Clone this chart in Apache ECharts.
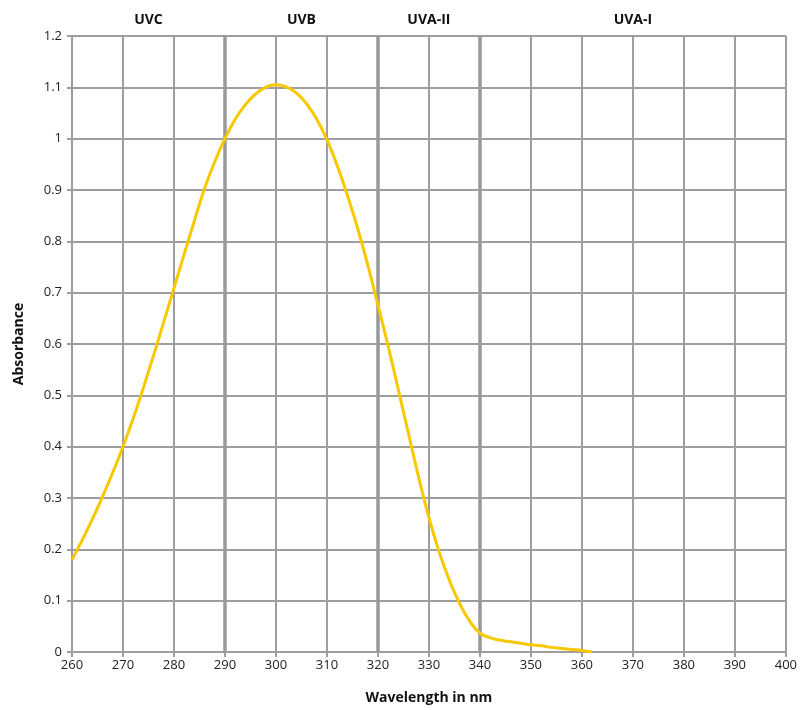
<!DOCTYPE html>
<html>
<head>
<meta charset="utf-8">
<script src="https://cdn.jsdelivr.net/npm/echarts@6/dist/echarts.min.js"></script>
<style>
  html, body { margin: 0; padding: 0; background: #fff; }
  #chart { width: 800px; height: 710px; }
</style>
</head>
<body>
<div id="chart"></div>
<script>
// Longitudes de onda (nm) y absorbancia
const wavelengths = [260, 262, 264, 266, 268, 270, 272, 274, 276, 278, 280, 282, 284, 286, 288, 290,
    292, 294, 296, 298, 300, 302, 304, 306, 308, 310, 312, 314, 316, 318, 320, 322, 324, 326, 328, 330,
    332, 334, 336, 338, 340, 342, 344, 346, 348, 350, 352, 354, 356, 358, 360, 362];
const absorbance = [0.18, 0.218, 0.259, 0.303, 0.350, 0.400, 0.455, 0.515, 0.578, 0.643, 0.709, 0.775, 0.840, 0.903, 0.955, 1.0,
    1.038, 1.066, 1.087, 1.100, 1.105, 1.101, 1.089, 1.068, 1.038, 0.998, 0.948, 0.89, 0.826, 0.754, 0.676, 0.596, 0.511, 0.425, 0.340, 0.262,
    0.195, 0.140, 0.095, 0.060, 0.037, 0.028, 0.023, 0.020, 0.017, 0.014, 0.012, 0.009, 0.007, 0.005, 0.003, 0];

// Bandas UV (inicio, fin, nombre)
const bandNames = ['UVC', 'UVB', 'UVA-II', 'UVA-I'];
const bandStart = [260, 290, 320, 340];
const bandEnd = [290, 320, 340, 400];
const bandLines = [290, 320, 340];

const chart = echarts.init(document.getElementById('chart'));

const fontFamily = '"Open Sans", sans-serif';
const gridColor = '#9e9e9e';

const option = {
    animation: false,
    textStyle: { fontFamily: fontFamily },
    grid: { left: 72, right: 14, top: 36, bottom: 56 },
    xAxis: {
        type: 'value',
        min: 260,
        max: 400,
        interval: 10,
        name: 'Wavelength in nm',
        nameLocation: 'middle',
        nameGap: 39,
        nameTextStyle: { fontSize: 14, fontWeight: 'bold', color: '#111', fontFamily: fontFamily },
        axisLine: { show: true, lineStyle: { color: gridColor, width: 2 } },
        axisTick: { show: true, length: 5, lineStyle: { color: gridColor, width: 2 } },
        axisLabel: { fontSize: 13, color: '#222', margin: 7 },
        splitLine: { show: true, lineStyle: { color: gridColor, width: 2 } },
    },
    yAxis: {
        type: 'value',
        min: 0,
        max: 1.2,
        interval: 0.1,
        name: 'Absorbance',
        nameLocation: 'middle',
        nameGap: 46,
        nameTextStyle: { fontSize: 14, fontWeight: 'bold', color: '#111', fontFamily: fontFamily },
        axisLine: { show: true, lineStyle: { color: gridColor, width: 2 } },
        axisTick: { show: true, length: 5, lineStyle: { color: gridColor, width: 2 } },
        axisLabel: { fontSize: 13, color: '#222', margin: 10 },
        splitLine: { show: true, lineStyle: { color: gridColor, width: 2 } },
    },
    series: [
        {
            type: 'line',
            data: wavelengths.map((w, i) => [w, absorbance[i]]),
            smooth: 0.5,
            showSymbol: false,
            lineStyle: { color: '#f8c800', width: 3 },
            z: 5,
            markLine: {
                silent: true,
                symbol: 'none',
                label: { show: false },
                lineStyle: { color: '#999', width: 3.5, type: 'solid' },
                data: bandLines.map(x => ({ xAxis: x })),
            },
            markArea: {
                silent: true,
                itemStyle: { color: 'rgba(0,0,0,0)' },
                label: {
                    show: true,
                    position: 'top',
                    distance: 9,
                    fontSize: 14,
                    fontWeight: 'bold',
                    color: '#111',
                    fontFamily: fontFamily,
                },
                data: bandNames.map((n, i) => [{ name: n, xAxis: bandStart[i] }, { xAxis: bandEnd[i] }]),
            },
        },
    ],
};

chart.setOption(option);
</script>
</body>
</html>
